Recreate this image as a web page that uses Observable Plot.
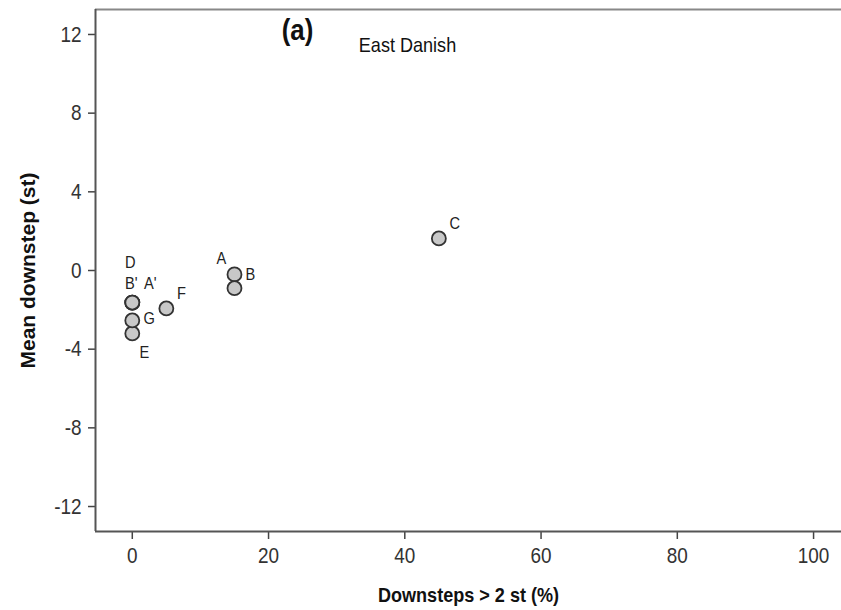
<!DOCTYPE html>
<html>
<head>
<meta charset="utf-8">
<script src="https://cdn.jsdelivr.net/npm/d3@7"></script>
<script src="https://cdn.jsdelivr.net/npm/@observablehq/plot@0.6"></script>
<style>
  html, body { margin: 0; padding: 0; background: #fff; }
  #chart svg { display: block; }
</style>
</head>
<body>
<div id="chart"></div>
<script>
// Varieties (tune types) and their downstep measures
const labels = ["A", "B", "C", "D", "E", "F", "G", "A'", "B'"];
const pctOver2st = [15, 15, 45, 0, 0, 5, 0, 0, 0];
const meanDownstep = [-0.2, -0.9, 1.63, -1.63, -3.2, -1.93, -2.54, -1.63, -1.63];

const xTicks = [0, 20, 40, 60, 80, 100];
const yTicks = [-12, -8, -4, 0, 4, 8, 12];
const xDomain = [-5.4, 104.1];
const yDomain = [-13.27, 13.27];

const panelTag = "(a)";
const panelTitle = "East Danish";
const xLabel = "Downsteps > 2 st (%)";
const yLabel = "Mean downstep (st)";

const data = labels.map((label, i) => ({label, x: pctOver2st[i], y: meanDownstep[i]}));

// Hand-tuned label placement so overlapping points stay readable
const labelPlacement = {
  "A": [-13, -16], "B": [16, -14], "C": [16, -15], "D": [-2, -40],
  "E": [12, 19], "F": [15, -15], "G": [17, -2], "A'": [18, -19], "B'": [-1, -19]
};

const font = "Liberation Sans, Arial, sans-serif";
const plainNumber = d => String(d);
// horizontal squeeze applied to the upright text, giving a condensed face
const condense = 0.86;

const plot = Plot.plot({
  width: 841,
  height: 610,
  marginLeft: 95,
  marginRight: 0,
  marginTop: 9,
  marginBottom: 79,
  style: {fontFamily: font, fontSize: "22px", color: "#333", background: "#fff"},
  x: {domain: xDomain},
  y: {domain: yDomain},
  marks: [
    // top border of the plot area
    Plot.ruleY([yDomain[1]], {stroke: "#888", strokeWidth: 2}),
    Plot.axisX({
      ticks: xTicks, tickFormat: plainNumber, tickSize: 8, tickPadding: 8,
      stroke: "#444", strokeWidth: 1.5, fontSize: 22, fill: "#333", label: null
    }),
    Plot.axisY({
      ticks: yTicks, tickFormat: plainNumber, tickSize: 7, tickPadding: 7,
      stroke: "#444", strokeWidth: 1.5, fontSize: 22, fill: "#333", label: null
    }),
    Plot.ruleX([xDomain[0]], {stroke: "#555", strokeWidth: 2}),
    Plot.ruleY([yDomain[0]], {stroke: "#555", strokeWidth: 2}),
    Plot.dot(data, {x: "x", y: "y", r: 7, fill: "#c8c8c8", stroke: "#333", strokeWidth: 1.8}),
    ...data.map(d => Plot.text([d], {
      x: "x", y: "y", text: "label",
      dx: labelPlacement[d.label][0], dy: labelPlacement[d.label][1],
      fontSize: 17, fill: "#222"
    })),
    Plot.text([panelTag], {frameAnchor: "top-left", dx: 202, dy: 21, lineAnchor: "middle", textAnchor: "middle", fontSize: 30, fontWeight: "bold", fill: "#111"}),
    Plot.text([panelTitle], {frameAnchor: "top-left", dx: 312, dy: 36, lineAnchor: "middle", textAnchor: "middle", fontSize: 21, fill: "#111"}),
    Plot.text([xLabel], {frameAnchor: "bottom", dy: 64, lineAnchor: "middle", fontSize: 21, fontWeight: "bold", fill: "#111"}),
    Plot.text([yLabel], {frameAnchor: "left", dx: -67, rotate: -90, textAnchor: "middle", fontSize: 21, fontWeight: "bold", fill: "#111"})
  ]
});

document.getElementById("chart").appendChild(plot);

// Condense every upright text; the rotated axis title keeps its full length
d3.select(plot).selectAll("text").each(function() {
  if (this.textContent === yLabel) return;
  const w = this.getComputedTextLength();
  if (w > 0) {
    this.setAttribute("textLength", (w * condense).toFixed(2));
    this.setAttribute("lengthAdjust", "spacingAndGlyphs");
  }
});
</script>
</body>
</html>
